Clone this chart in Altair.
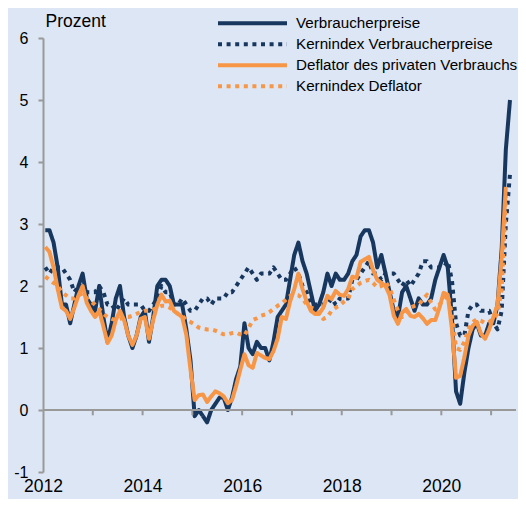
import altair as alt
import pandas as pd

# ---- data (monthly, year-over-year in %) ----
series_names = [
    "Verbraucherpreise",
    "Kernindex Verbraucherpreise",
    "Deflator des privaten Verbrauchs",
    "Kernindex Deflator",
]
series_colors = ["#17375E", "#17375E", "#F79646", "#F79646"]
series_dash = [[1, 0], [4, 4.6], [1, 0], [4, 4.6]]

# Jan 2012 - May 2021
cpi = [
    2.9, 2.9, 2.7, 2.3, 1.7, 1.7, 1.4, 1.7, 2.0, 2.2, 1.8, 1.7,
    1.6, 2.0, 1.5, 1.1, 1.4, 1.8, 2.0, 1.5, 1.2, 1.0, 1.2, 1.5,
    1.6, 1.1, 1.5, 2.0, 2.1, 2.1, 2.0, 1.7, 1.7, 1.7, 1.3, 0.8,
    -0.1, 0.0, -0.1, -0.2, 0.0, 0.1, 0.2, 0.2, 0.0, 0.2, 0.5, 0.7,
    1.4, 1.0, 0.9, 1.1, 1.0, 1.0, 0.8, 1.1, 1.5, 1.6, 1.7, 2.1,
    2.5, 2.7, 2.4, 2.2, 1.9, 1.6, 1.7, 1.9, 2.2, 2.0, 2.2, 2.1,
    2.1, 2.2, 2.4, 2.5, 2.8, 2.9, 2.9, 2.7, 2.3, 2.5, 2.2, 1.9,
    1.6, 1.5, 1.9, 2.0, 1.8, 1.6, 1.8, 1.7, 1.7, 1.8, 2.1, 2.3,
    2.5, 2.3, 1.5, 0.3, 0.1, 0.6, 1.0, 1.3, 1.4, 1.2, 1.2, 1.4,
    1.4, 1.7, 2.6, 4.2, 5.0,
]
core_cpi = [
    2.3, 2.2, 2.3, 2.3, 2.3, 2.2, 2.1, 1.9, 2.0, 2.0, 1.9, 1.9,
    1.9, 2.0, 1.9, 1.7, 1.7, 1.6, 1.7, 1.8, 1.7, 1.7, 1.7, 1.7,
    1.6, 1.6, 1.7, 1.8, 2.0, 1.9, 1.9, 1.7, 1.7, 1.8, 1.7, 1.6,
    1.6, 1.7, 1.8, 1.8, 1.7, 1.8, 1.8, 1.8, 1.9, 1.9, 2.0, 2.1,
    2.2, 2.3, 2.2, 2.1, 2.2, 2.2, 2.2, 2.3, 2.2, 2.1, 2.1, 2.2,
    2.3, 2.2, 2.0, 1.9, 1.7, 1.7, 1.7, 1.7, 1.7, 1.8, 1.7, 1.8,
    1.8, 1.8, 2.1, 2.1, 2.2, 2.3, 2.4, 2.2, 2.2, 2.1, 2.2, 2.2,
    2.2, 2.1, 2.0, 2.1, 2.0, 2.1, 2.2, 2.4, 2.4, 2.3, 2.3, 2.3,
    2.3, 2.4, 2.1, 1.4, 1.2, 1.2, 1.6, 1.7, 1.7, 1.6, 1.6, 1.6,
    1.4, 1.3, 1.6, 3.0, 3.8,
]
# Jan 2012 - Apr 2021
pce = [
    2.63, 2.55, 2.3, 1.95, 1.65, 1.6, 1.47, 1.65, 1.85, 2.0, 1.73, 1.6,
    1.5, 1.6, 1.35, 1.08, 1.2, 1.45, 1.6, 1.45, 1.2, 1.05, 1.2, 1.47,
    1.5, 1.15, 1.45, 1.7, 1.86, 1.75, 1.76, 1.6, 1.55, 1.5, 1.21, 0.65,
    0.16, 0.24, 0.25, 0.13, 0.22, 0.3, 0.27, 0.22, 0.11, 0.16, 0.39, 0.65,
    0.9, 0.72, 0.68, 0.92, 0.88, 0.84, 0.82, 0.95, 1.15, 1.5, 1.47, 1.75,
    1.95, 2.2, 1.95, 1.75, 1.6, 1.55, 1.55, 1.65, 1.84, 1.79, 1.92, 1.86,
    1.84, 1.95, 2.15, 2.13, 2.39, 2.43, 2.47, 2.26, 2.1, 2.05, 2.0, 1.85,
    1.52, 1.39, 1.57, 1.63, 1.52, 1.5, 1.55, 1.48, 1.39, 1.45, 1.45, 1.65,
    1.89, 1.86, 1.31, 0.52, 0.55, 0.85, 1.2, 1.36, 1.42, 1.23, 1.15, 1.3,
    1.5, 1.7, 2.45, 3.6,
]
core_pce = [
    2.15, 2.1, 2.05, 2.0, 1.9, 1.85, 1.8, 1.8, 1.85, 1.88, 1.8, 1.75,
    1.7, 1.63, 1.55, 1.5, 1.47, 1.45, 1.47, 1.5, 1.5, 1.52, 1.55, 1.58,
    1.6, 1.6, 1.62, 1.65, 1.68, 1.68, 1.65, 1.6, 1.55, 1.52, 1.45, 1.42,
    1.38, 1.33, 1.31, 1.3, 1.3, 1.28, 1.25, 1.22, 1.22, 1.24, 1.25, 1.22,
    1.2, 1.32, 1.45, 1.48, 1.52, 1.54, 1.58, 1.63, 1.68, 1.72, 1.78, 1.84,
    1.86, 1.85, 1.8, 1.7, 1.65, 1.63, 1.55, 1.47, 1.5, 1.6, 1.65, 1.69,
    1.75, 1.8, 1.95, 2.0, 2.05, 2.08, 2.1, 2.05, 1.98, 2.0, 2.06, 1.97,
    1.78, 1.6, 1.5, 1.55, 1.65, 1.68, 1.7, 1.78, 1.86, 1.73, 1.62, 1.7,
    1.78, 1.86, 1.55, 1.0, 0.97, 1.1, 1.3, 1.42, 1.46, 1.44, 1.4, 1.42,
    1.48, 1.55, 1.95, 3.45,
]

x_ticks = list(range(2012, 2022))
y_ticks = list(range(-1, 7))
x_domain = [2012, 2021.5]
y_domain = [-1, 6]

rows = []
for name, vals in zip(series_names, [cpi, core_cpi, pce, core_pce]):
    for i, v in enumerate(vals):
        rows.append({"t": 2012 + (i + 0.55) / 12, "v": v, "s": name})
df = pd.DataFrame(rows)

FONT = "Liberation Sans"
AXIS_GRAY = "#999999"
BG = "#DCE6F4"

xscale = alt.Scale(domain=x_domain, nice=False, zero=False)
yscale = alt.Scale(domain=y_domain, nice=False, zero=False)

x_axis = alt.Axis(
    values=x_ticks,
    format="d",
    labelExpr="datum.value % 2 == 0 ? datum.label : ''",
    labelFlush=False,
    domain=False,
    ticks=False,
    grid=False,
    title=None,
    labelFontSize=17.5,
    labelPadding=5,
)
y_axis = alt.Axis(
    values=y_ticks,
    labelExpr="datum.value + ''",
    grid=False,
    title="Prozent",
    titleAngle=0,
    titleAlign="left",
    titleBaseline="middle",
    titleX=2,
    titleY=-17,
    titleFontSize=17.5,
    titleFontWeight="normal",
    titleFont=FONT,
    titleColor="#000000",
    labelFontSize=16,
    labelPadding=10,
)

legend = alt.Legend(
    title=None,
    orient="none",
    legendX=173,
    legendY=-25,
    symbolType="stroke",
    symbolSize=4761,
    symbolStrokeWidth=4,
    clipHeight=20.7,
    rowPadding=0,
    labelOffset=7,
    padding=0,
    labelLimit=400,
    labelFontSize=15.2,
    labelFont=FONT,
    labelColor="#000000",
)

lines = alt.Chart(df).mark_line(strokeWidth=4, strokeJoin="round").encode(
    x=alt.X("t:Q", scale=xscale, axis=x_axis),
    y=alt.Y("v:Q", scale=yscale, axis=y_axis),
    color=alt.Color("s:N", scale=alt.Scale(domain=series_names, range=series_colors), legend=legend),
    strokeDash=alt.StrokeDash("s:N", scale=alt.Scale(domain=series_names, range=series_dash), legend=legend),
)

zero_df = pd.DataFrame({"x0": [x_domain[0]], "x1": [x_domain[1]]})
zero_line = alt.Chart(zero_df).mark_rule(color=AXIS_GRAY, strokeWidth=2).encode(
    x=alt.X("x0:Q", scale=xscale, axis=x_axis),
    x2="x1:Q",
    y=alt.datum(0, scale=yscale, axis=y_axis),
)

tick_df = pd.DataFrame({"yr": x_ticks[1:]})
zero_ticks = alt.Chart(tick_df).mark_rule(color=AXIS_GRAY, strokeWidth=2).encode(
    x=alt.X("yr:Q", scale=xscale, axis=x_axis),
    y=alt.datum(0, scale=yscale, axis=y_axis),
    y2=alt.datum(-0.085),
)

chart = (
    alt.layer(lines, zero_line, zero_ticks)
    .properties(
        width=473,
        height=434,
        background=BG,
        padding={"left": 35, "top": 30, "right": 2, "bottom": 27},
        autosize=alt.AutoSizeParams(type="none"),
    )
    .configure_view(stroke=None)
    .configure_axis(
        labelFont=FONT,
        labelColor="#000000",
        domainColor=AXIS_GRAY,
        domainWidth=2,
        tickColor=AXIS_GRAY,
        tickWidth=2,
        tickSize=5,
    )
)

chart.save("out.html", embed_options={"renderer": "svg", "actions": False})
